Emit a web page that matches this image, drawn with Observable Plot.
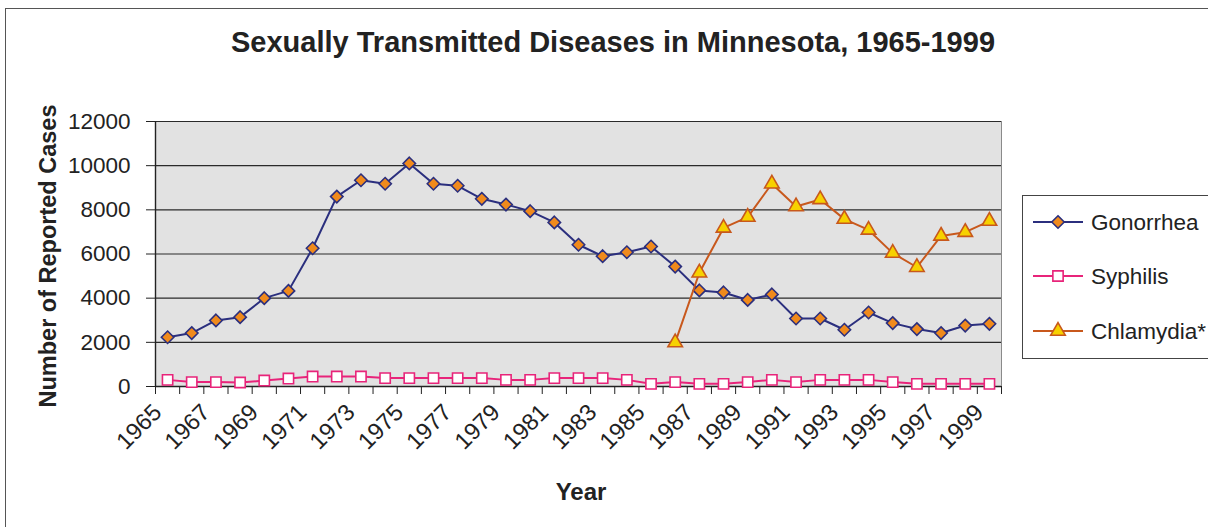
<!DOCTYPE html>
<html><head><meta charset="utf-8">
<script src="https://cdn.jsdelivr.net/npm/d3@7"></script>
<script src="https://cdn.jsdelivr.net/npm/@observablehq/plot@0.6"></script>
<style>
body{margin:0;background:#fff;font-family:"Liberation Sans",Arial,sans-serif;}
#wrap{position:relative;width:1208px;height:527px;overflow:hidden;background:#fff;}
#border{position:absolute;left:5px;top:8px;width:1400px;height:700px;border:1.5px solid #555;}
#title{position:absolute;left:0;width:1226px;top:26px;text-align:center;font-weight:bold;font-size:29px;color:#222;}
#chart{position:absolute;left:0;top:0;}
#ylab{position:absolute;left:48px;top:256px;transform:translate(-50%,-50%) rotate(-90deg);white-space:nowrap;font-weight:bold;font-size:23.5px;color:#222;}
#xlab{position:absolute;left:581px;top:492px;transform:translate(-50%,-50%);font-weight:bold;font-size:24px;color:#222;}
#legend{position:absolute;left:1022px;top:195px;width:300px;height:162px;border:1.5px solid #444;background:#fff;}
</style>
</head><body>
<div id="wrap">
<div id="border"></div>
<div id="title">Sexually Transmitted Diseases in Minnesota, 1965-1999</div>
<div id="chart"></div>
<div id="ylab">Number of Reported Cases</div>
<div id="xlab">Year</div>
<div id="legend"></div>
</div>
<script>
const years = [1965,1966,1967,1968,1969,1970,1971,1972,1973,1974,1975,1976,1977,1978,1979,1980,1981,1982,1983,1984,1985,1986,1987,1988,1989,1990,1991,1992,1993,1994,1995,1996,1997,1998,1999];
const gonorrhea = [2230,2420,2990,3140,4000,4330,6260,8600,9340,9180,10100,9180,9090,8500,8240,7940,7430,6420,5900,6080,6340,5430,4350,4260,3920,4170,3080,3080,2570,3350,2870,2600,2420,2760,2840];
const syphilis = [300,200,200,180,270,360,450,450,450,380,380,380,380,380,300,300,380,380,380,300,120,200,120,120,200,300,200,300,300,300,200,120,120,120,120];
const chlamydiaYears = [1986,1987,1988,1989,1990,1991,1992,1993,1994,1995,1996,1997,1998,1999];
const chlamydia = [1990,5150,7180,7670,9180,8150,8470,7580,7090,6040,5400,6820,6990,7490];
const seriesNames = ["Gonorrhea","Syphilis","Chlamydia*"];
const yTicks = [0,2000,4000,6000,8000,10000,12000];
const xLabelYears = [1965,1967,1969,1971,1973,1975,1977,1979,1981,1983,1985,1987,1989,1991,1993,1995,1997,1999];

const styles = {
  "Gonorrhea": {line:"#2b2f7e", symbol:"diamond2", fill:"#f08a1c", stroke:"#2b2f7e", r:5.6},
  "Syphilis": {line:"#e8247a", symbol:"square", fill:"#ffffff", stroke:"#e8247a", r:5.8},
  "Chlamydia*": {line:"#c8581c", symbol:"triangle", fill:"#f7d100", stroke:"#c8581c", r:5.4}
};

const rows = [
  ...years.map((y,i)=>({year:y, value:gonorrhea[i], series:"Gonorrhea"})),
  ...years.map((y,i)=>({year:y, value:syphilis[i], series:"Syphilis"})),
  ...chlamydiaYears.map((y,i)=>({year:y, value:chlamydia[i], series:"Chlamydia*"}))
];
const boundaries = [...years.map(y=>y-0.5), years[years.length-1]+0.5];
const x0 = years[0]-0.5, x1 = years[years.length-1]+0.5;

const seriesMarks = seriesNames.flatMap(name => {
  const s = styles[name];
  const d = rows.filter(r=>r.series===name);
  return [
    Plot.line(d, {x:"year", y:"value", stroke:s.line, strokeWidth:2}),
    Plot.dot(d, {x:"year", y:"value", symbol:()=>s.symbol, r:s.r, fill:s.fill, stroke:s.stroke, strokeWidth:1.6})
  ];
});

const chart = Plot.plot({
  width:1208, height:527,
  marginLeft:155, marginRight:207, marginTop:121, marginBottom:141,
  style:{background:"transparent", fontFamily:"'Liberation Sans', Arial, sans-serif", color:"#222", overflow:"visible"},
  x:{domain:[x0,x1]},
  y:{domain:[0,12000]},
  symbol:{type:"identity"},
  marks:[
    Plot.frame({fill:"#e2e2e2", stroke:"#8a8a8a"}),
    Plot.gridY(yTicks, {stroke:"#2a2a2a", strokeOpacity:1, strokeWidth:1.1}),
    Plot.axisY(yTicks, {tickSize:9, tickPadding:16, fontSize:22.5, label:null, tickFormat:d=>String(d)}),
    Plot.axisX(boundaries, {tickSize:8, tickFormat:()=>"", label:null}),
    Plot.axisX(xLabelYears, {tickSize:0, tickRotate:-45, fontSize:23.5, tickPadding:12, dx:-10, dy:10, label:null, tickFormat:d=>String(d)}),
    Plot.ruleY([0], {stroke:"#222", strokeWidth:1.4}),
    Plot.ruleX([x0], {stroke:"#222", strokeWidth:1.4}),
    ...seriesMarks
  ]
});
document.getElementById("chart").appendChild(chart);

// legend
const lg = d3.select("#legend").append("svg").attr("width",300).attr("height",162);
const rowY = [26, 80, 135];
seriesNames.forEach((name,i)=>{
  const s = styles[name];
  const g = lg.append("g").attr("transform",`translate(0,${rowY[i]})`);
  g.append("line").attr("x1",10).attr("x2",60).attr("y1",0).attr("y2",0).attr("stroke",s.line).attr("stroke-width",2);
  const sym = {diamond2:d3.symbolDiamond2, square:d3.symbolSquare, triangle:d3.symbolTriangle}[s.symbol];
  g.append("path").attr("transform","translate(35,0)").attr("d",d3.symbol(sym, Math.PI*s.r*s.r)())
    .attr("fill",s.fill).attr("stroke",s.stroke).attr("stroke-width",1.6);
  g.append("text").attr("x",68).attr("y",0).attr("dy","0.35em").attr("font-size",22.5)
    .attr("font-family","'Liberation Sans', Arial, sans-serif").attr("fill","#222").text(name);
});
</script>
</body></html>
